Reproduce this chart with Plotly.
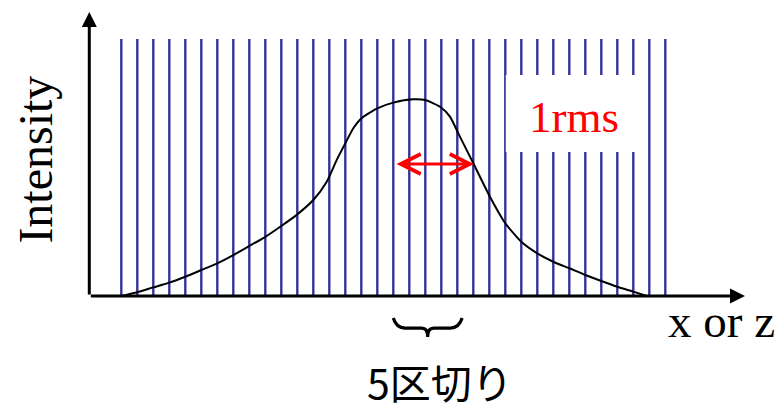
import plotly.graph_objects as go

# ---- data ----
# bin boundary indices (vertical division lines)
line_idx = list(range(35))
line_top = 1.307  # height of the division lines (relative to peak intensity = 1)

# beam profile (x in bin units, intensity normalised to peak)
prof_x = [0, 1, 2, 3, 4, 5, 6, 7, 8, 9, 10, 11, 12, 12.84, 13.46, 14, 14.5, 15, 16, 17,
          18.25, 19, 19.92, 20.54, 21.06, 22, 23.04, 24, 25, 26, 27, 28, 29, 30, 31, 32, 32.84]
prof_y = [0, 0.019, 0.044, 0.068, 0.098, 0.132, 0.166, 0.208, 0.254, 0.301, 0.356, 0.415,
          0.488, 0.581, 0.691, 0.776, 0.853, 0.903, 0.954, 0.983, 1.0, 0.996, 0.962, 0.912,
          0.827, 0.675, 0.505, 0.370, 0.276, 0.217, 0.174, 0.141, 0.107, 0.076, 0.047, 0.022, 0]

rms_from, rms_to, rms_level = 17.11, 22.04, 0.671
brace_from, brace_to = 17.0, 21.3

y_label = "Intensity"
x_label = "x or z"
rms_label = "1rms"
brace_label = "5区切り"

# ---- figure geometry ----
W, H = 781, 403
X0PX, DXPX = 121.3, 16.0
Y0PX, DYPX = 296.0, 196.7
xr = [-X0PX / DXPX, (W - X0PX) / DXPX]
yr = [-(H - Y0PX) / DYPX, Y0PX / DYPX]

fig = go.Figure()

# division lines
lx, ly = [], []
for k in line_idx:
    lx += [k, k, None]
    ly += [0, line_top, None]
fig.add_trace(go.Scatter(x=lx, y=ly, mode="lines",
                         line=dict(color="#34349a", width=2.4),
                         hoverinfo="skip", showlegend=False))

# profile curve
fig.add_trace(go.Scatter(x=prof_x, y=prof_y, mode="lines",
                         line=dict(color="black", width=2, shape="spline", smoothing=0.6),
                         hoverinfo="skip", showlegend=False))

# white box behind the 1rms label
fig.add_shape(type="rect", x0=24.03, x1=32.73, y0=0.732, y1=1.1235,
              xref="x", yref="y", fillcolor="white", line=dict(width=0), layer="above")

# brace
def brace_path(x0, x1, ytop, ymid, ybot):
    xm = (x0 + x1) / 2
    q = (x1 - x0) * 0.17
    return (f"M{x0},{ytop} Q{x0 + q * 0.25},{ymid} {x0 + q},{ymid} "
            f"L{xm - q * 0.5},{ymid} Q{xm},{ymid} {xm},{ybot} "
            f"Q{xm},{ymid} {xm + q * 0.5},{ymid} "
            f"L{x1 - q},{ymid} Q{x1 - q * 0.25},{ymid} {x1},{ytop}")

fig.add_shape(type="path", path=brace_path(brace_from, brace_to, -0.112, -0.163, -0.208),
              xref="x", yref="y", line=dict(color="black", width=3.2), layer="above")

# axes arrows
axis_end_x = (745 - X0PX) / DXPX
axis_end_y = (Y0PX - 12) / DYPX
fig.add_annotation(x=axis_end_x, y=0, ax=-2, ay=0, xref="x", yref="y", axref="x", ayref="y",
                   text="", showarrow=True, arrowhead=2, arrowsize=1.0, arrowwidth=3,
                   arrowcolor="black")
fig.add_annotation(x=-2, y=axis_end_y, ax=-2, ay=0, xref="x", yref="y", axref="x", ayref="y",
                   text="", showarrow=True, arrowhead=2, arrowsize=1.0, arrowwidth=3,
                   arrowcolor="black")

# red double arrow (1 rms)
fig.add_annotation(x=rms_to, y=rms_level, ax=rms_from, ay=rms_level,
                   xref="x", yref="y", axref="x", ayref="y",
                   text="", showarrow=True, arrowhead=5, startarrowhead=5,
                   arrowside="end+start", arrowsize=1.3, startarrowsize=1.3,
                   arrowwidth=3, arrowcolor="#ff0000")

serif = "Liberation Serif, Times New Roman, serif"
fig.add_annotation(x=-5.36, y=0.691, xref="x", yref="y", text=y_label, showarrow=False,
                   textangle=-90, font=dict(family=serif, size=48, color="black"))
fig.add_annotation(x=28.28, y=0.9075, xref="x", yref="y", text=rms_label, showarrow=False,
                   font=dict(family=serif, size=45, color="#ff0000"))
fig.add_annotation(x=37.51, y=-0.127, xref="x", yref="y", text=x_label, showarrow=False,
                   font=dict(family=serif, size=47, color="black"))
fig.add_annotation(x=19.92, y=-0.432, xref="x", yref="y", text=brace_label, showarrow=False,
                   font=dict(family="Noto Sans CJK JP", size=41, color="black"))

fig.update_layout(width=W, height=H, autosize=False,
                  margin=dict(l=0, r=0, t=0, b=0, pad=0),
                  paper_bgcolor="white", plot_bgcolor="white", showlegend=False,
                  xaxis=dict(range=xr, visible=False, fixedrange=True),
                  yaxis=dict(range=yr, visible=False, fixedrange=True))

fig.write_html("out.html", config={"displayModeBar": False},
               post_script="document.body.style.margin='0';document.body.style.overflow='hidden';")
